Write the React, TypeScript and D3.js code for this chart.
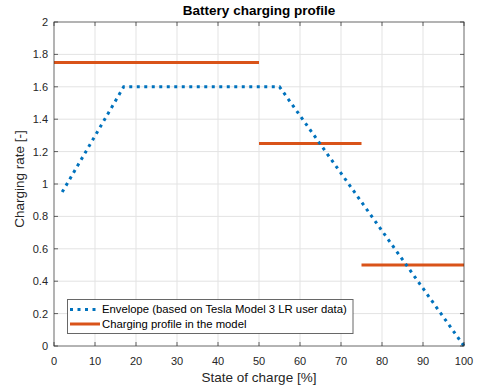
import React from "react";
import * as d3 from "d3";

const envelopeSoc = [2, 17, 55, 100];
const envelopeRate = [0.95, 1.6, 1.6, 0];
const profileStart = [0, 50, 75];
const profileEnd = [50, 75, 100];
const profileRate = [1.75, 1.25, 0.5];
const xTicks = [0, 10, 20, 30, 40, 50, 60, 70, 80, 90, 100];
const yTicks = [0, 0.2, 0.4, 0.6, 0.8, 1, 1.2, 1.4, 1.6, 1.8, 2];

const W = 481, H = 392;
const L = 54, R = 464, T = 22, B = 346;
const FONT = "'Liberation Sans', Arial, Helvetica, sans-serif";
const BLUE = "#0072BD";
const ORANGE = "#D95319";
const AX = "#262626";

export default function App() {
  const x = d3.scaleLinear().domain([0, 100]).range([L, R]);
  const y = d3.scaleLinear().domain([0, 2]).range([B, T]);
  const env = envelopeSoc.map((s, i) => [s, envelopeRate[i]] as [number, number]);
  const line = d3.line<[number, number]>().x(d => x(d[0])).y(d => y(d[1]));
  const tl = 4;
  return (
    <svg width={W} height={H} style={{ position: "absolute", left: 0, top: 0, background: "#fff" }} fontFamily={FONT}>
      <rect x={0} y={0} width={W} height={H} fill="#fff" />
      <rect x={L} y={T} width={R - L} height={B - T} fill="#fff" />
      {xTicks.map(t => (
        <line key={"gx" + t} x1={x(t)} x2={x(t)} y1={T} y2={B} stroke="#e3e3e3" strokeWidth={1} />
      ))}
      {yTicks.map(t => (
        <line key={"gy" + t} x1={L} x2={R} y1={y(t)} y2={y(t)} stroke="#e3e3e3" strokeWidth={1} />
      ))}
      {profileRate.map((r, i) => (
        <line key={"p" + i} x1={x(profileStart[i])} x2={x(profileEnd[i])} y1={y(r)} y2={y(r)} stroke={ORANGE} strokeWidth={3} />
      ))}
      <path d={line(env) || ""} fill="none" stroke={BLUE} strokeWidth={3} strokeDasharray="3 4.5" />
      <rect x={L} y={T} width={R - L} height={B - T} fill="none" stroke={AX} strokeOpacity={0.6} strokeWidth={1} />
      {xTicks.map(t => (
        <g key={"tx" + t}>
          <line x1={x(t)} x2={x(t)} y1={B} y2={B - tl} stroke={AX} strokeOpacity={0.7} />
          <line x1={x(t)} x2={x(t)} y1={T} y2={T + tl} stroke={AX} strokeOpacity={0.7} />
          <text x={x(t)} y={B + 18.5} textAnchor="middle" fontSize={11} fill={AX}>{t}</text>
        </g>
      ))}
      {yTicks.map(t => (
        <g key={"ty" + t}>
          <line x1={L} x2={L + tl} y1={y(t)} y2={y(t)} stroke={AX} strokeOpacity={0.7} />
          <line x1={R} x2={R - tl} y1={y(t)} y2={y(t)} stroke={AX} strokeOpacity={0.7} />
          <text x={L - 6} y={y(t) + 4} textAnchor="end" fontSize={11} fill={AX}>{t}</text>
        </g>
      ))}
      <text x={259} y={15} textAnchor="middle" fontSize={13.5} fontWeight="bold" fill="#000">Battery charging profile</text>
      <text x={259} y={382} textAnchor="middle" fontSize={13.5} fill={AX}>State of charge [%]</text>
      <text transform={`translate(24,179) rotate(-90)`} textAnchor="middle" fontSize={13.5} fill={AX}>Charging rate [-]</text>
      <g>
        <rect x={67.5} y={299.5} width={285.5} height={34} fill="#fff" stroke={AX} strokeOpacity={0.7} strokeWidth={1} />
        <line x1={70} x2={100} y1={309.5} y2={309.5} stroke={BLUE} strokeWidth={3} strokeDasharray="3 4.5" />
        <text x={102} y={313} fontSize={11.3} fill="#000">Envelope (based on Tesla Model 3 LR user data)</text>
        <line x1={70} x2={100} y1={324} y2={324} stroke={ORANGE} strokeWidth={3} />
        <text x={102} y={328} fontSize={11.3} fill="#000">Charging profile in the model</text>
      </g>
    </svg>
  );
}
